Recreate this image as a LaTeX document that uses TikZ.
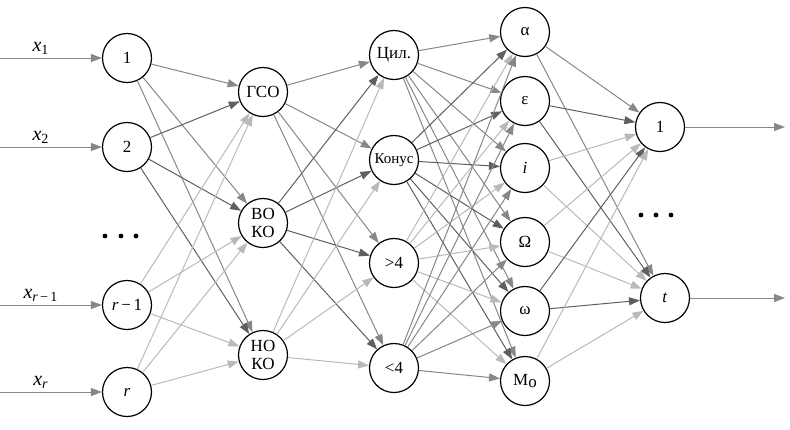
\documentclass[tikz,border=0pt]{standalone}
\usepackage{fontspec}
\setmainfont{Liberation Serif}
\usetikzlibrary{arrows.meta}
\definecolor{gdark}{RGB}{95,95,95}
\definecolor{gmid}{RGB}{135,135,135}
\definecolor{glight}{RGB}{185,185,185}

\begin{document}
\begin{tikzpicture}[
  x=1pt, y=-1pt,
  >={Triangle[length=11pt,width=8pt]},
  neuron/.style={
    circle,
    draw=black,
    line width=1.2pt,
    fill=white,
    minimum size=49pt,
    inner sep=0pt,
    align=center,
    font=\fontsize{17}{18}\selectfont
  },
  edge/.style={
    ->,
    line width=1pt
  },
  label/.style={
    font=\fontsize{20}{21}\selectfont
  }
  ]
  \useasboundingbox (0,0) rectangle (790,429);

  % inputs
  \node[neuron] (n1) at (127,58) {1};
  \node[neuron] (n2) at (127,147) {2};
  \node[neuron] (nr1) at (127,305) {\textit{r}\,−\,1};
  \node[neuron] (nr) at (127,392) {\textit{r}};
  \foreach \x in {105,121,136} \fill (\x,236) circle (2.4pt);

  % features
  \node[neuron] (gso) at (263,92) {ГСО};
  \node[neuron] (vo) at (263,223) {ВО\\КО};
  \node[neuron] (no) at (263,355) {НО\\КО};

  % shape
  \node[neuron] (cil) at (394,55) {Цил.};
  \node[neuron, font=\fontsize{15}{16}\selectfont] (kon) at (394,160) {Конус};
  \node[neuron] (gt) at (394,263) {>4};
  \node[neuron] (lt) at (394,368) {<4};

  % parameters
  \node[neuron] (al) at (525,32) {α};
  \node[neuron] (ep) at (525,101) {ε};
  \node[neuron] (ii) at (525,168) {\textit{i}};
  \node[neuron] (Om) at (525,242) {Ω};
  \node[neuron] (om) at (525,311) {ω};
  \node[neuron] (mo) at (525,381) {M\raisebox{-2pt}{o}};

  % outputs
  \node[neuron] (o1) at (660,127) {1};
  \node[neuron] (ot) at (665,298) {\textit{t}};
  \foreach \x in {641,656,671} \fill (\x,215) circle (2.4pt);

  \coordinate (in1) at (0,58);
  \coordinate (in2) at (0,147);
  \coordinate (inr1) at (0,305);
  \coordinate (inr) at (0,392);
  \coordinate (out1) at (785,127);
  \coordinate (outt) at (785,298);

  \draw[edge, gmid] (in1) -- (n1) node[label, black, pos=0.4, above] {\textit{x}\textsubscript{1}};
  \draw[edge, gmid] (in2) -- (n2) node[label, black, pos=0.4, above] {\textit{x}\textsubscript{2}};
  \draw[edge, gmid] (inr1) -- (nr1) node[label, black, pos=0.4, above] {\textit{x}\textsubscript{\textit{r}\,−\,1}};
  \draw[edge, gmid] (inr) -- (nr) node[label, black, pos=0.4, above] {\textit{x}\textsubscript{\textit{r}}};
  \draw[edge, gmid] (o1) -- (out1);
  \draw[edge, gmid] (ot) -- (outt);

  \foreach \s/\c in {n1/gmid, n2/gdark, nr1/glight, nr/glight}
    \foreach \t in {gso, vo, no}
      \draw[edge, \c] (\s) -- (\t);

  \foreach \s/\c in {gso/gmid, vo/gdark, no/glight}
    \foreach \t in {cil, kon, gt, lt}
      \draw[edge, \c] (\s) -- (\t);

  \foreach \s/\c in {cil/gmid, kon/gdark, gt/glight, lt/gmid}
    \foreach \t in {al, ep, ii, Om, om, mo}
      \draw[edge, \c] (\s) -- (\t);

  \foreach \s/\c in {al/gmid, ep/gdark, ii/glight, Om/glight, om/gdark, mo/glight}
    \foreach \t in {o1, ot}
      \draw[edge, \c] (\s) -- (\t);
\end{tikzpicture}
\end{document}
